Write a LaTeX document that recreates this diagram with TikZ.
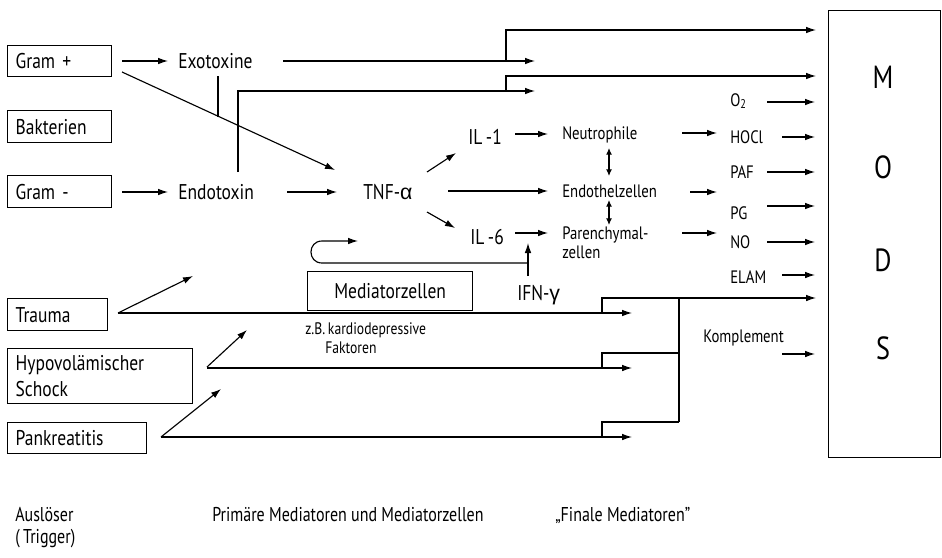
\documentclass[tikz,border=0pt]{standalone}
\usepackage{fontspec}
\setmainfont{PT Sans}[FakeStretch=0.82]
\newfontfamily\lightcond{PT Sans}[FakeStretch=0.80]
\newfontfamily\grk{Liberation Sans}
\usetikzlibrary{arrows.meta}

\begin{document}
\begin{tikzpicture}[x=0.75pt,y=-0.75pt,
  ln/.style={line width=0.85pt},
  arr/.style={ln,-{Latex[length=7.5pt,width=5pt]}},
  darr/.style={ln,{Latex[length=5pt,width=4.5pt]}-{Latex[length=5pt,width=4.5pt]}},
  boxed/.style={draw,line width=1pt,anchor=north west,inner xsep=6pt,inner ysep=0pt,
    align=left,font=\fontsize{16}{19}\selectfont},
  big/.style={font=\fontsize{16}{19}\selectfont,inner sep=0pt,anchor=base west},
  med/.style={font=\fontsize{13.5}{16}\selectfont,inner sep=0pt,anchor=base west},
  small/.style={font=\fontsize{12.5}{15}\selectfont,inner sep=0pt,anchor=base west},
  letter/.style={font=\fontsize{24}{28}\selectfont,inner sep=0pt,anchor=base},
  foot/.style={font=\lightcond\fontsize{15}{18}\selectfont,inner sep=0pt,anchor=base west}
]
\useasboundingbox (0,0) rectangle (942,557);

% ---------- triggers ----------
\node[boxed,text width=66pt,minimum height=23.25pt] (gp)  at (7,45)  {Gram +};
\node[boxed,text width=66pt,minimum height=24pt]    (bak) at (7,110) {Bakterien};
\node[boxed,text width=66pt,minimum height=24pt]    (gm)  at (7,175) {Gram -};
\node[boxed,text width=63pt,minimum height=24pt]    (tra) at (7,298) {Trauma};
\node[boxed,text width=126.75pt,minimum height=41.25pt] (hyp) at (7,348) {Hypovolämischer\\Schock};
\node[boxed,text width=92.25pt,minimum height=23.25pt]  (pan) at (7,422) {Pankreatitis};

% ---------- primary mediators ----------
\node[big] (exo)  at (178,68)  {Exotoxine};
\node[big] (endo) at (178,199) {Endotoxin};
\node[big] (tnf)  at (363,199) {TNF-{\grk α}};
\node[big] (il1)  at (468,144) {IL\,-1};
\node[big] (il6)  at (470,244) {IL\,-6};
\node[big] (ifn)  at (517,300) {IFN-{\grk γ}};
\node[draw,line width=1pt,anchor=north west,minimum width=123.75pt,minimum height=29.25pt,
      inner sep=0pt,font=\fontsize{16}{19}\selectfont] (medz) at (307,271) {Mediatorzellen};
\node[small] (zb)  at (305,334) {z.B.\,kardiodepressive};
\node[small] (fak) at (325,353) {Faktoren};

\node[med] (neu)  at (562,139) {Neutrophile};
\node[med] (endz) at (562,197) {Endothelzellen};
\node[med] (par)  at (562,239) {Parenchymal-};
\node[med] (parb) at (562,258) {zellen};

% ---------- final mediators ----------
\node[med] (o2)    at (730,106) {O\textsubscript{2}};
\node[med] (hocl)  at (730,143) {HOCl};
\node[med] (paf)   at (730,178) {PAF};
\node[med] (pg)    at (730,219) {PG};
\node[med] (no)    at (730,248) {NO};
\node[med] (elam)  at (730,283) {ELAM};
\node[med] (kompl) at (703,342) {Komplement};

% ---------- MODS ----------
\node[draw,line width=1pt,anchor=north west,minimum width=84pt,minimum height=335.25pt,inner sep=0pt]
  (mods) at (828,10) {};
\node[letter] (lm) at (883,88)  {M};
\node[letter] (lo) at (883,178) {O};
\node[letter] (ld) at (883,271) {D};
\node[letter] (ls) at (883,359) {S};

% ---------- column headings ----------
\node[foot] (aus)  at (15,521)  {Auslöser};
\node[foot] (trig) at (15,543)  {(\,Trigger)};
\node[foot] (prim) at (212,521) {Primäre Mediatoren und Mediatorzellen};
\node[foot] (fin)  at (555,521) {„Finale Mediatoren”};

% ---------- connector ends ----------
\coordinate (gp-o)   at (122,61);
\coordinate (exo-i)  at (168,61);
\coordinate (gp-d)   at (122,72);
\coordinate (tnf-d)  at (335,170);
\coordinate (exo-s)  at (218,76);
\coordinate (exo-j)  at (218,117);
\coordinate (exo-o)  at (283,61);
\coordinate (exo-e)  at (535,61);
\coordinate (exo-b)  at (506,61);
\coordinate (mods-1) at (816,30);
\coordinate (gm-o)   at (122,192);
\coordinate (endo-i) at (168,192);
\coordinate (endo-o) at (287,192);
\coordinate (tnf-i)  at (337,192);
\coordinate (endo-u) at (238,172);
\coordinate (endo-e) at (535,91);
\coordinate (endo-b) at (506,91);
\coordinate (mods-2) at (816,76);

% ---------- connectors: bacteria ----------
\draw[arr] (gp-o) -- (exo-i);
\draw[arr] (gp-d) -- (tnf-d);
\draw[ln]  (exo-s) -- (exo-j);
\draw[arr] (exo-o) -- (exo-e);
\draw[arr] (exo-b) |- (mods-1);
\draw[arr] (gm-o) -- (endo-i);
\draw[arr] (endo-o) -- (tnf-i);
\draw[arr] (endo-u) |- (endo-e);
\draw[arr] (endo-b) |- (mods-2);

% ---------- connectors: cytokines ----------
\draw[arr] (427,172) -- (456,153);
\draw[arr] (448,191) -- (548,191);
\draw[arr] (427,212) -- (455,228);
\draw[arr] (515,134) -- (548,134);
\draw[arr] (515,233) -- (548,233);
\draw[darr] (609,148) -- (609,176);
\draw[darr] (609,200) -- (609,225);
\draw[arr] (528,276) -- (528,243);
\draw[arr] (528,263) -- (322,263) .. controls (307.3,263) and (307.3,241) .. (322,241) -- (358,241);

% ---------- connectors: trauma, shock, pancreatitis ----------
\coordinate (tra-o) at (118,313);
\coordinate (hyp-o) at (207,368);
\coordinate (pan-o) at (161,437);
\coordinate (jn)    at (679,298);
\draw[arr] (tra-o) -- (193,276);
\draw[arr] (tra-o) -- (632,313);
\draw[arr] (602,313) |- (816,298);
\draw[arr] (207,367) -- (247,330);
\draw[arr] (hyp-o) -- (632,368);
\draw[ln]  (602,368) |- (679,353);
\draw[arr] (pan-o) -- (221,389);
\draw[arr] (pan-o) -- (632,437);
\draw[ln]  (602,437) |- (679,422);
\draw[ln]  (jn) -- (679,422);

% ---------- connectors: towards the final mediators ----------
\draw[arr] (682,133) -- (717,133);
\draw[arr] (690,192) -- (717,192);
\draw[arr] (682,233) -- (717,233);
\draw[arr] (767,102) -- (815,102);
\draw[arr] (782,137) -- (815,137);
\draw[arr] (767,172) -- (815,172);
\draw[arr] (767,206) -- (815,206);
\draw[arr] (767,242) -- (815,242);
\draw[arr] (782,275) -- (815,275);
\draw[arr] (782,354) -- (815,354);
\end{tikzpicture}
\end{document}
